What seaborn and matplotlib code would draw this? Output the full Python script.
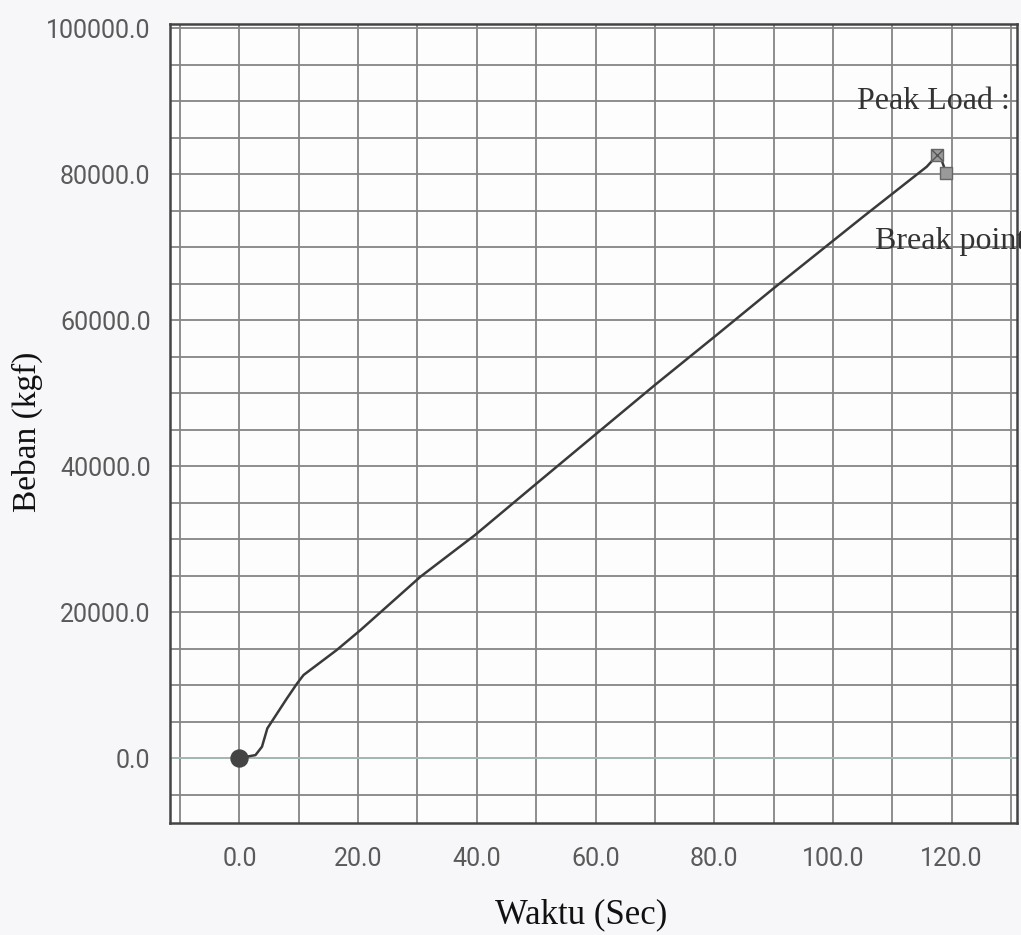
import numpy as np
import pandas as pd
import matplotlib
matplotlib.use("Agg")
import matplotlib.pyplot as plt
from matplotlib.ticker import MultipleLocator
import seaborn as sns

# -------------------------
#  Data
# -------------------------
waktu = [0.0, 2.7, 3.8, 4.7, 8.0, 9.7, 10.8, 16.4, 20.4, 30.5, 39.7, 50.1,
         60.2, 70.0, 80.4, 90.0, 105.1, 115.8, 117.6, 118.4, 119.1]
beban = [0, 400, 1550, 4060, 8170, 10200, 11370, 14800, 17530, 24840, 30550,
         37630, 44470, 51100, 57950, 64340, 74160, 81000, 82600, 81700, 80100]

peak_t, peak_load = 117.6, 82600
break_t, break_load = 119.1, 80100

x_ticks = [0, 20, 40, 60, 80, 100, 120]
y_ticks = [0, 20000, 40000, 60000, 80000, 100000]

df = pd.DataFrame({"Waktu": waktu, "Beban": beban})

# -------------------------
#  Style
# -------------------------
sns.set_theme(style="white")
plt.rcParams["font.family"] = ["Liberation Serif", "DejaVu Serif"]

fig = plt.figure(figsize=(10.21, 9.35), dpi=100, facecolor="#f7f7f9")
ax = fig.add_axes([0.1665, 0.1198, 0.8295, 0.8545])
ax.set_facecolor("#fdfdfd")

ax.set_xlim(-11.7, 131.0)
ax.set_ylim(-8900, 100550)

# grid every 10 s / 5000 kgf
ax.xaxis.set_major_locator(plt.FixedLocator(x_ticks))
ax.yaxis.set_major_locator(plt.FixedLocator(y_ticks))
ax.xaxis.set_minor_locator(MultipleLocator(10))
ax.yaxis.set_minor_locator(MultipleLocator(5000))
ax.grid(which="both", color="#858585", linewidth=1.3)
ax.tick_params(which="minor", length=0)
ax.set_axisbelow(True)

# zero line slightly greenish like the scan
ax.axhline(0, color="#a6bdb3", linewidth=1.3, zorder=1)

# -------------------------
#  Curve and markers
# -------------------------
sns.lineplot(data=df, x="Waktu", y="Beban", ax=ax, color="#3a3a3a",
             linewidth=1.8, estimator=None, sort=False, zorder=3)

sns.scatterplot(x=[waktu[0]], y=[beban[0]], ax=ax, s=150, color="#444444",
                edgecolor="#444444", marker="o", zorder=4)
sns.scatterplot(x=[peak_t], y=[peak_load], ax=ax, s=70, color="#9a9a9a",
                edgecolor="#666666", marker="s", linewidth=1, zorder=4)
sns.scatterplot(x=[peak_t], y=[peak_load], ax=ax, s=60, color="#555555",
                marker="x", linewidth=1, zorder=5)
sns.scatterplot(x=[break_t], y=[break_load], ax=ax, s=70, color="#9a9a9a",
                edgecolor="#666666", marker="s", linewidth=1, zorder=4)

# both labels run off the right edge in the original scan
ax.text(104.0, 89900, "Peak Load :", fontsize=23, color="#333333",
        va="center", ha="left", clip_on=False)
ax.text(107.1, 70800, "Break point", fontsize=23, color="#333333",
        va="center", ha="left", clip_on=False)

# -------------------------
#  Axes, ticks, labels
# -------------------------
for side in ["left", "bottom", "top", "right"]:
    ax.spines[side].set_visible(True)
    ax.spines[side].set_color("#444444")
    ax.spines[side].set_linewidth(1.8)

ax.set_xticklabels([f"{v:.1f}" for v in x_ticks])
ax.set_yticklabels([f"{v:.1f}" for v in y_ticks])
ax.tick_params(which="major", direction="out", length=9, width=1.5,
               color="#444444", labelcolor="#5a5a5a", pad=5)
ax.tick_params(axis="x", pad=8)
for lab in ax.get_xticklabels() + ax.get_yticklabels():
    lab.set_family(["Roboto", "DejaVu Sans"])
    lab.set_fontsize(18)

ax.set_xlabel("Waktu (Sec)", fontsize=25, color="#111111")
ax.set_ylabel("Beban (kgf)", fontsize=24, color="#111111")
ax.xaxis.set_label_coords(0.486, -0.094)
ax.yaxis.set_label_coords(-0.15, 0.49)

fig.savefig("out.png", dpi=100, facecolor=fig.get_facecolor())
